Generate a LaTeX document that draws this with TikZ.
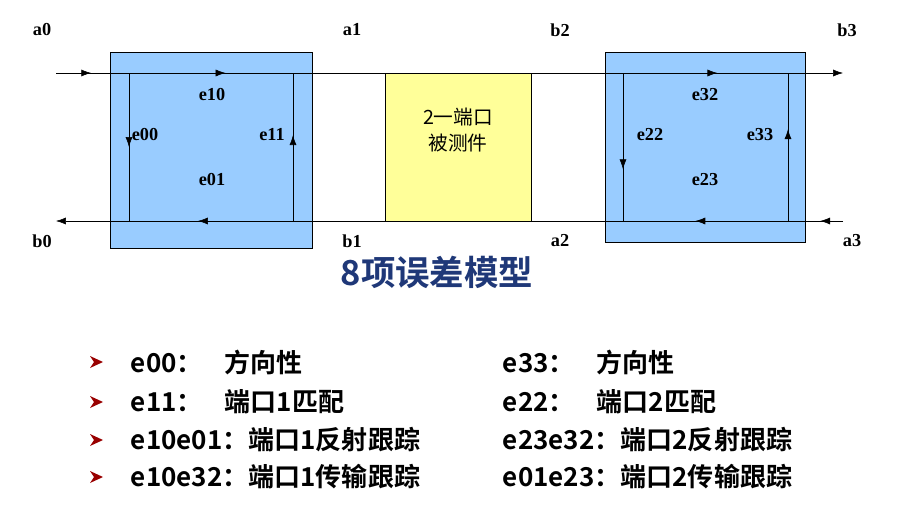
\documentclass[tikz,border=0pt]{standalone}
\usepackage{fontspec}
\setmainfont{Liberation Serif}
\newfontfamily\cjk{Noto Sans CJK SC}
\newfontfamily\cjkb{Noto Sans CJK SC Bold}
\usetikzlibrary{arrows.meta,decorations.markings}
\begin{document}
\begin{tikzpicture}[x=0.025cm,y=-0.025cm,
  tip/.style={decoration={markings,mark=at position #1 with {\arrow{Latex[length=7pt,width=5pt]}}},postaction={decorate}},
  lbl/.style={font=\fontsize{13}{15}\selectfont\bfseries},
  item/.style={anchor=west,font=\fontsize{18.5}{21}\selectfont\cjkb},
  bul/.style={fill=red!60!black}]
\useasboundingbox (0,0) rectangle (903,513);
\fill[white] (0,0) rectangle (903,513);
\draw[fill={rgb,255:red,153;green,204;blue,255}] (110,52) rectangle (312,248);
\draw[fill={rgb,255:red,153;green,204;blue,255}] (605,52) rectangle (805,242);
\draw[fill={rgb,255:red,255;green,255;blue,153}] (385,73) rectangle (531,221);
\node[font=\fontsize{14}{19}\selectfont\cjk,align=center] (dut) at (458,130) {2一端口\\被测件};
% top line
\draw[tip=0.65] (56,73) -- (110,73);
\draw[tip=0.42] (110,73) -- (385,73);
\draw[tip=0.68] (531,73) -- (805,73);
\draw[-{Latex[length=7pt,width=5pt]}] (805,73) -- (843,73);
% bottom line
\draw[-{Latex[length=7pt,width=5pt]}] (110,221) -- (56,221);
\draw[tip=0.68] (385,221) -- (110,221);
\draw[tip=0.4] (805,221) -- (531,221);
\draw[tip=0.6] (843,221) -- (805,221);
% verticals
\draw[tip=0.5] (129,73) -- (129,221);
\draw[tip=0.58] (293,221) -- (293,73);
\draw[tip=0.65] (623,73) -- (623,221);
\draw[tip=0.62] (788,221) -- (788,73);
% labels
\foreach \t/\x/\y in {a0/42/30,a1/352/30,b2/560/30,b3/847/30,b0/42/241,b1/352/241,a2/560/241,a3/852/241,
  e10/212/95,e00/145/135,e11/272/135,e01/212/180,e32/705/95,e22/650/135,e33/760/135,e23/705/180}
  \node[lbl] (n\t) at (\x,\y) {\t};
\node[font=\fontsize{24.5}{28}\selectfont\cjkb,text={rgb,255:red,31;green,56;blue,120}] (title) at (437,272) {8项误差模型};
% list
\foreach \y in {362,402,440,477}
  \fill[bul] (90,\y-6) -- (103,\y) -- (90,\y+6) -- (94,\y) -- cycle;
\node[item] (l1) at (126,362) {e00：\hspace{0.85em}方向性};
\node[item] (l2) at (126,402) {e11：\hspace{0.85em}端口1匹配};
\node[item] (l3) at (126,440) {e10e01：端口1反射跟踪};
\node[item] (l4) at (126,477) {e10e32：端口1传输跟踪};
\node[item] (r1) at (498,362) {e33：\hspace{0.85em}方向性};
\node[item] (r2) at (498,402) {e22：\hspace{0.85em}端口2匹配};
\node[item] (r3) at (498,440) {e23e32：端口2反射跟踪};
\node[item] (r4) at (498,477) {e01e23：端口2传输跟踪};
\end{tikzpicture}
\end{document}
